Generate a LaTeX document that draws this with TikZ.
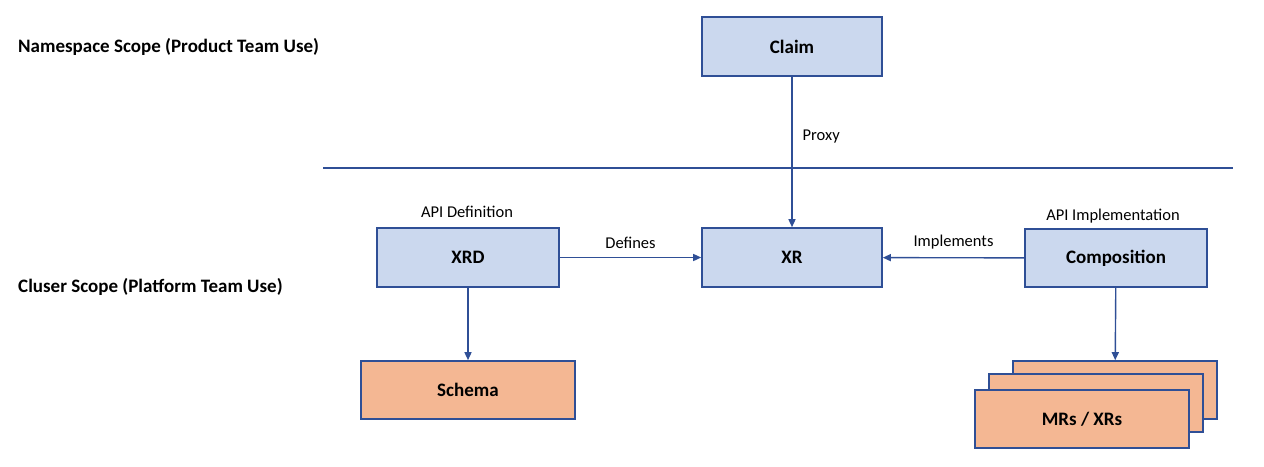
\documentclass[tikz,border=0pt]{standalone}
\usepackage{fontspec}
\setmainfont{Carlito}
\usetikzlibrary{arrows.meta}
\definecolor{boxblue}{HTML}{CBD8EE}
\definecolor{boxorange}{HTML}{F4B793}
\definecolor{edgeblue}{HTML}{2F4F96}
\tikzset{
  apibox/.style={draw=edgeblue, line width=1.6pt, fill=boxblue, minimum width=180pt, minimum height=59pt, inner sep=0pt, font=\fontsize{19}{22}\selectfont\bfseries},
  resbox/.style={draw=edgeblue, line width=1.6pt, fill=boxorange, minimum width=214pt, minimum height=58pt, inner sep=0pt, font=\fontsize{19}{22}\selectfont\bfseries},
  scopelabel/.style={anchor=west, inner sep=0pt, font=\fontsize{19}{22}\selectfont\bfseries},
  small/.style={inner sep=0pt, font=\fontsize{16.5}{19}\selectfont},
  link/.style={draw=edgeblue, line width=1.4pt, -{Triangle[length=8pt,width=7pt]}}
}
\begin{document}
\begin{tikzpicture}[x=1pt, y=-1pt]
\useasboundingbox (0,0) rectangle (1264,466);
% scope labels
\node[scopelabel] (ns) at (18,47) {Namespace Scope (Product Team Use)};
\node[scopelabel] (cs) at (18,287) {Cluser Scope (Platform Team Use)};
% divider
\coordinate (divl) at (323,168);
\coordinate (divr) at (1233,168);
\draw[edgeblue, line width=1.4pt] (divl) -- (divr);
% api boxes
\node[apibox] (claim) at (792,46.5) {Claim};
\node[apibox, minimum width=182pt] (xrd) at (468,257.5) {XRD};
\node[apibox] (xr) at (792,257.5) {XR};
\node[apibox, minimum width=182pt, minimum height=58pt] (comp) at (1116,258) {Composition};
% resources
\node[resbox] (schema) at (468,390) {Schema};
\node[resbox, minimum width=204pt] (mrsback) at (1115,390) {};
\node[resbox] (mrsmid) at (1096,403) {};
\node[resbox] (mrs) at (1082,419) {MRs / XRs};
% small labels
\node[small] (apidef) at (467,212) {API Definition};
\node[small] (apiimpl) at (1113,216) {API Implementation};
% links
\draw[link] (claim) -- node[small, anchor=west, xshift=10pt, pos=0.4] (proxy) {Proxy} (xr);
\draw[link] (xrd) -- node[small, above=8pt] (def) {Defines} (xr);
\draw[link] (comp) -- node[small, above=8pt] (impl) {Implements} (xr);
\draw[link] (xrd) -- (schema);
\draw[link] (comp) -- (mrsback);
\end{tikzpicture}
\end{document}
